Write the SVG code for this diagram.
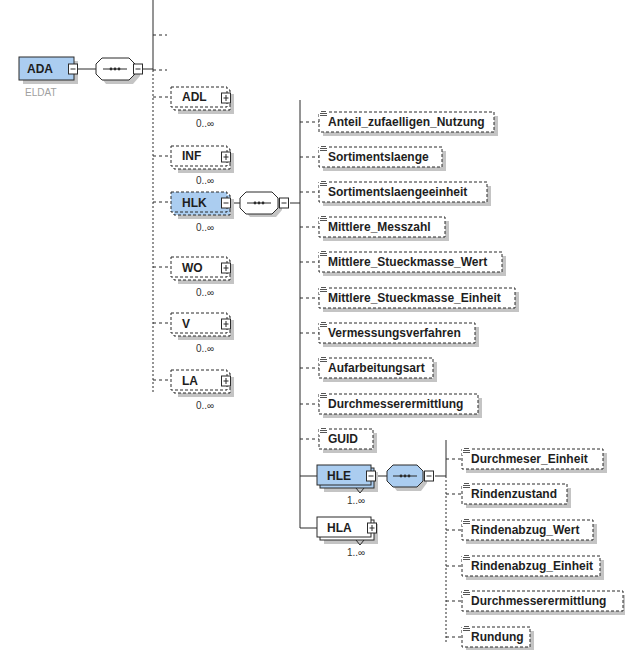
<svg xmlns="http://www.w3.org/2000/svg" width="625" height="650" viewBox="0 0 625 650">
<defs>
<style>
.sh{fill:#c4c4c4;stroke:none}
.opt{fill:#fff;stroke:#2b2b2b;stroke-width:1;stroke-dasharray:3 2}
.req{fill:#fff;stroke:#2b2b2b;stroke-width:1}
.selo{fill:#abcdf0;stroke:#2b2b2b;stroke-width:1;stroke-dasharray:3 2}
.selr{fill:#abcdf0;stroke:#2b2b2b;stroke-width:1}
.lbl{font-family:"Liberation Sans",Arial,sans-serif;font-weight:bold;font-size:12px;fill:#1e1e1e}
.occ{font-family:"Liberation Sans",Arial,sans-serif;font-size:10px;fill:#333}
.eldat{font-family:"Liberation Sans",Arial,sans-serif;font-size:10px;fill:#a0a0a0}
.ln{stroke:#2b2b2b;stroke-width:1;fill:none}
.dl{stroke:#2b2b2b;stroke-width:1;fill:none;stroke-dasharray:3 3}
.dt{stroke:#2b2b2b;stroke-width:1;fill:none;stroke-dasharray:2 2}
.btn{fill:#fff;stroke:#2b2b2b;stroke-width:1}
.ic{stroke:#555;stroke-width:1}
.seqf{fill:#fff;stroke:#2b2b2b;stroke-width:1}
.seqs{fill:#abcdf0;stroke:#2b2b2b;stroke-width:1}
</style>
<g id="icon"><rect x="0" y="-3" width="9" height="8" fill="#fff"/><line class="ic" x1="2" y1="-1.5" x2="7" y2="-1.5"/><line class="ic" x1="1" y1="0.5" x2="8" y2="0.5"/><line class="ic" x1="1" y1="2.5" x2="8" y2="2.5"/></g>
<g id="minus"><rect class="btn" x="-4.5" y="-5" width="9" height="10"/><line class="ln" x1="-2.5" y1="0" x2="2.5" y2="0"/></g>
<g id="plus"><rect class="btn" x="-4.5" y="-5" width="9" height="10"/><line class="ln" x1="-2.5" y1="0" x2="2.5" y2="0"/><line class="ln" x1="0" y1="-3" x2="0" y2="3"/></g>
<g id="dots"><line class="ln" x1="-12" y1="0" x2="12" y2="0"/><circle cx="-4" cy="0" r="1.4" fill="#2b2b2b"/><circle cx="0" cy="0" r="1.4" fill="#2b2b2b"/><circle cx="4" cy="0" r="1.4" fill="#2b2b2b"/></g>
</defs>
<rect width="625" height="650" fill="#fff"/>

<g id="connectors">
<line class="ln" x1="78" y1="69" x2="96" y2="69"/>
<line class="ln" x1="143" y1="69" x2="153" y2="69"/>
<line class="ln" x1="153" y1="0" x2="153" y2="70"/>
<line class="dt" x1="153" y1="70" x2="153" y2="392"/>
<line class="dl" x1="153" y1="35" x2="167" y2="35"/>
<line class="dl" x1="153" y1="70" x2="167" y2="70"/>
<line class="dl" x1="153" y1="97" x2="171" y2="97"/>
<line class="dl" x1="153" y1="156" x2="171" y2="156"/>
<line class="dl" x1="153" y1="202" x2="171" y2="202"/>
<line class="dl" x1="153" y1="267" x2="171" y2="267"/>
<line class="dl" x1="153" y1="323" x2="171" y2="323"/>
<line class="dl" x1="153" y1="380" x2="171" y2="380"/>
<line class="ln" x1="231" y1="203" x2="240" y2="203"/>
<line class="ln" x1="290" y1="203" x2="300" y2="203"/>
<path class="ln" d="M300 100 V528 H317"/>
<line class="dl" x1="300" y1="122" x2="319" y2="122"/>
<line class="dl" x1="300" y1="157" x2="319" y2="157"/>
<line class="dl" x1="300" y1="192" x2="319" y2="192"/>
<line class="dl" x1="300" y1="227" x2="319" y2="227"/>
<line class="dl" x1="300" y1="262" x2="319" y2="262"/>
<line class="dl" x1="300" y1="298" x2="319" y2="298"/>
<line class="dl" x1="300" y1="333" x2="319" y2="333"/>
<line class="dl" x1="300" y1="368" x2="319" y2="368"/>
<line class="dl" x1="300" y1="404" x2="319" y2="404"/>
<line class="dl" x1="300" y1="439" x2="319" y2="439"/>
<line class="ln" x1="300" y1="476" x2="317" y2="476"/>
<line class="ln" x1="377" y1="476" x2="387" y2="476"/>
<line class="ln" x1="435" y1="476" x2="446" y2="476"/>
<line class="ln" x1="446" y1="440" x2="446" y2="476"/>
<line class="dt" x1="446" y1="476" x2="446" y2="642"/>
<line class="dl" x1="446" y1="459" x2="462" y2="459"/>
<line class="dl" x1="446" y1="494" x2="462" y2="494"/>
<line class="dl" x1="446" y1="530" x2="462" y2="530"/>
<line class="dl" x1="446" y1="566" x2="462" y2="566"/>
<line class="dl" x1="446" y1="601" x2="462" y2="601"/>
<line class="dl" x1="446" y1="637" x2="462" y2="637"/>
</g>

<g id="ADA">
<rect class="sh" x="23" y="61" width="55" height="23"/>
<rect class="selr" x="19" y="57" width="55" height="23"/>
<text class="lbl" x="27" y="73">ADA</text>
<use href="#minus" x="73" y="69"/>
<text class="eldat" x="25" y="96">ELDAT</text>
</g>

<g id="seq_ADA">
<path class="sh" d="M106 62 H133 L140 69 V76 L133 84 H106 L100 76 V69 Z"/>
<path class="seqf" d="M102 58 H129 L135 64 V74 L129 80 H102 L96 74 V64 Z"/>
<use href="#dots" x="115" y="69"/>
<use href="#minus" x="138" y="69"/>
</g>

<g id="ADL">
<rect class="sh" x="178" y="94" width="56" height="20"/>
<rect class="opt" x="174" y="90" width="56" height="20"/>
<rect class="opt" x="171" y="87" width="56" height="20"/>
<text class="lbl" x="182" y="101">ADL</text>
<use href="#plus" x="226" y="98"/>
<text class="occ" x="205" y="127" text-anchor="middle">0..∞</text>
</g>

<g id="INF">
<rect class="sh" x="178" y="153" width="56" height="20"/>
<rect class="opt" x="174" y="149" width="56" height="20"/>
<rect class="opt" x="171" y="146" width="56" height="20"/>
<text class="lbl" x="182" y="160">INF</text>
<use href="#plus" x="226" y="157"/>
<text class="occ" x="205" y="184" text-anchor="middle">0..∞</text>
</g>

<g id="HLK">
<rect class="sh" x="178" y="199" width="56" height="20"/>
<rect class="selo" x="174" y="195" width="56" height="20"/>
<rect class="selo" x="171" y="192" width="56" height="20"/>
<text class="lbl" x="182" y="207">HLK</text>
<use href="#minus" x="226" y="203"/>
<text class="occ" x="205" y="231" text-anchor="middle">0..∞</text>
</g>

<g id="seq_HLK">
<path class="sh" d="M250 196 H276 L282 202 V210 L276 217 H250 L244 210 V202 Z"/>
<path class="seqf" d="M246 192 H272 L278 198 V208 L272 214 H246 L240 208 V198 Z"/>
<use href="#dots" x="259" y="203"/>
<use href="#minus" x="284" y="203"/>
</g>

<g id="WO">
<rect class="sh" x="178" y="264" width="56" height="20"/>
<rect class="opt" x="174" y="260" width="56" height="20"/>
<rect class="opt" x="171" y="257" width="56" height="20"/>
<text class="lbl" x="182" y="272">WO</text>
<use href="#plus" x="226" y="268"/>
<text class="occ" x="205" y="296" text-anchor="middle">0..∞</text>
</g>

<g id="V">
<rect class="sh" x="178" y="320" width="56" height="20"/>
<rect class="opt" x="174" y="316" width="56" height="20"/>
<rect class="opt" x="171" y="313" width="56" height="20"/>
<text class="lbl" x="182" y="328">V</text>
<use href="#plus" x="226" y="324"/>
<text class="occ" x="205" y="352" text-anchor="middle">0..∞</text>
</g>

<g id="LA">
<rect class="sh" x="178" y="377" width="56" height="20"/>
<rect class="opt" x="174" y="373" width="56" height="20"/>
<rect class="opt" x="171" y="370" width="56" height="20"/>
<text class="lbl" x="182" y="385">LA</text>
<use href="#plus" x="226" y="381"/>
<text class="occ" x="205" y="409" text-anchor="middle">0..∞</text>
</g>

<g id="Anteil_zufaelligen_Nutzung">
<rect class="sh" x="323" y="116" width="175" height="20"/>
<rect class="opt" x="319" y="112" width="175" height="20"/>
<use href="#icon" x="319" y="113"/>
<text class="lbl" x="328" y="126">Anteil_zufaelligen_Nutzung</text>
</g>
<g id="Sortimentslaenge">
<rect class="sh" x="323" y="151" width="123" height="20"/>
<rect class="opt" x="319" y="147" width="123" height="20"/>
<use href="#icon" x="319" y="148"/>
<text class="lbl" x="328" y="161">Sortimentslaenge</text>
</g>
<g id="Sortimentslaengeeinheit">
<rect class="sh" x="323" y="186" width="168" height="20"/>
<rect class="opt" x="319" y="182" width="168" height="20"/>
<use href="#icon" x="319" y="183"/>
<text class="lbl" x="328" y="196">Sortimentslaengeeinheit</text>
</g>
<g id="Mittlere_Messzahl">
<rect class="sh" x="323" y="221" width="126" height="20"/>
<rect class="opt" x="319" y="217" width="126" height="20"/>
<use href="#icon" x="319" y="218"/>
<text class="lbl" x="328" y="231">Mittlere_Messzahl</text>
</g>
<g id="Mittlere_Stueckmasse_Wert">
<rect class="sh" x="323" y="256" width="183" height="20"/>
<rect class="opt" x="319" y="252" width="183" height="20"/>
<use href="#icon" x="319" y="253"/>
<text class="lbl" x="328" y="266">Mittlere_Stueckmasse_Wert</text>
</g>
<g id="Mittlere_Stueckmasse_Einheit">
<rect class="sh" x="323" y="292" width="196" height="20"/>
<rect class="opt" x="319" y="288" width="196" height="20"/>
<use href="#icon" x="319" y="289"/>
<text class="lbl" x="328" y="302">Mittlere_Stueckmasse_Einheit</text>
</g>
<g id="Vermessungsverfahren">
<rect class="sh" x="323" y="327" width="156" height="20"/>
<rect class="opt" x="319" y="323" width="156" height="20"/>
<use href="#icon" x="319" y="324"/>
<text class="lbl" x="328" y="337">Vermessungsverfahren</text>
</g>
<g id="Aufarbeitungsart">
<rect class="sh" x="323" y="362" width="114" height="20"/>
<rect class="opt" x="319" y="358" width="114" height="20"/>
<use href="#icon" x="319" y="359"/>
<text class="lbl" x="328" y="372">Aufarbeitungsart</text>
</g>
<g id="Durchmesserermittlung_HLK">
<rect class="sh" x="323" y="398" width="159" height="20"/>
<rect class="opt" x="319" y="394" width="159" height="20"/>
<use href="#icon" x="319" y="395"/>
<text class="lbl" x="328" y="408">Durchmesserermittlung</text>
</g>
<g id="GUID">
<rect class="sh" x="323" y="433" width="54" height="20"/>
<rect class="opt" x="319" y="429" width="54" height="20"/>
<use href="#icon" x="319" y="430"/>
<text class="lbl" x="328" y="443">GUID</text>
</g>

<g id="HLE">
<rect class="sh" x="324" y="472" width="54" height="20"/>
<rect class="selr" x="320" y="468" width="54" height="20"/>
<rect class="selr" x="317" y="465" width="54" height="20"/>
<path class="ln" d="M356 488 L360 493 L364 488"/>
<text class="lbl" x="327" y="480">HLE</text>
<use href="#minus" x="371" y="476"/>
<text class="occ" x="356" y="504" text-anchor="middle">1..∞</text>
</g>

<g id="seq_HLE">
<path class="sh" d="M397 469 H421 L427 475 V483 L421 491 H397 L391 483 V475 Z"/>
<path class="seqs" d="M393 465 H417 L423 471 V481 L417 487 H393 L387 481 V471 Z"/>
<use href="#dots" x="405" y="476"/>
<use href="#minus" x="429" y="476"/>
</g>

<g id="HLA">
<rect class="sh" x="324" y="524" width="54" height="20"/>
<rect class="req" x="320" y="520" width="54" height="20"/>
<rect class="req" x="317" y="517" width="54" height="20"/>
<path class="ln" d="M356 540 L360 545 L364 540"/>
<text class="lbl" x="327" y="532">HLA</text>
<use href="#plus" x="372" y="528"/>
<text class="occ" x="356" y="556" text-anchor="middle">1..∞</text>
</g>

<g id="Durchmeser_Einheit">
<rect class="sh" x="466" y="453" width="141" height="20"/>
<rect class="opt" x="462" y="449" width="141" height="20"/>
<use href="#icon" x="462" y="450"/>
<text class="lbl" x="471" y="463">Durchmeser_Einheit</text>
</g>
<g id="Rindenzustand">
<rect class="sh" x="466" y="488" width="105" height="20"/>
<rect class="opt" x="462" y="484" width="105" height="20"/>
<use href="#icon" x="462" y="485"/>
<text class="lbl" x="471" y="498">Rindenzustand</text>
</g>
<g id="Rindenabzug_Wert">
<rect class="sh" x="466" y="524" width="131" height="20"/>
<rect class="opt" x="462" y="520" width="131" height="20"/>
<use href="#icon" x="462" y="521"/>
<text class="lbl" x="471" y="534">Rindenabzug_Wert</text>
</g>
<g id="Rindenabzug_Einheit">
<rect class="sh" x="466" y="560" width="138" height="20"/>
<rect class="opt" x="462" y="556" width="138" height="20"/>
<use href="#icon" x="462" y="557"/>
<text class="lbl" x="471" y="570">Rindenabzug_Einheit</text>
</g>
<g id="Durchmesserermittlung_HLE">
<rect class="sh" x="466" y="595" width="161" height="20"/>
<rect class="opt" x="462" y="591" width="161" height="20"/>
<use href="#icon" x="462" y="592"/>
<text class="lbl" x="471" y="605">Durchmesserermittlung</text>
</g>
<g id="Rundung">
<rect class="sh" x="466" y="631" width="68" height="20"/>
<rect class="opt" x="462" y="627" width="68" height="20"/>
<use href="#icon" x="462" y="628"/>
<text class="lbl" x="471" y="641">Rundung</text>
</g>
</svg>
